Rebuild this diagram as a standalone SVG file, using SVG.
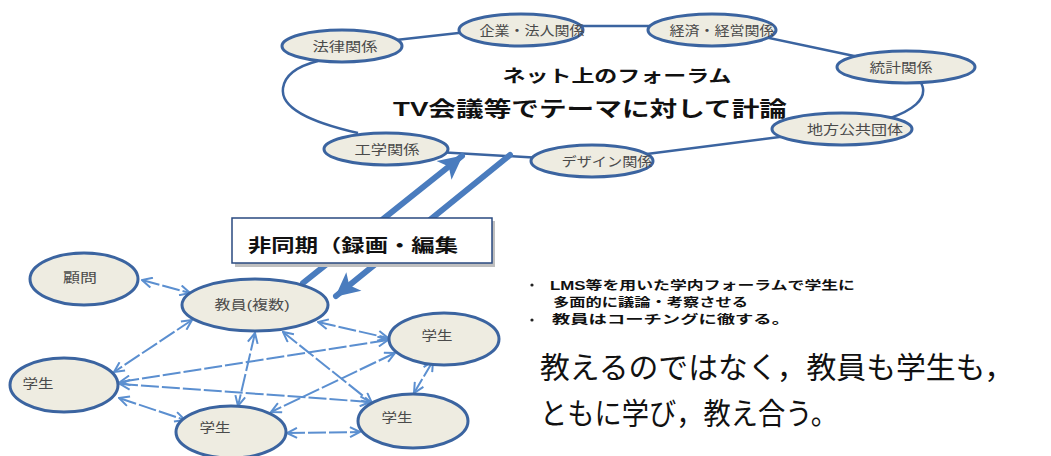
<svg xmlns="http://www.w3.org/2000/svg" width="1051" height="456" viewBox="0 0 1051 456">
<style>
.ell{fill:#eeece1;stroke:#3b64a0;stroke-width:3}
.lbl{font-family:"Liberation Sans","Noto Sans CJK JP",sans-serif;font-size:13px;fill:#4a4a4a;text-anchor:middle}
.loop{fill:none;stroke:#3b64a0;stroke-width:2.5}
.con{fill:none;stroke:#5b8fd0;stroke-width:2;stroke-dasharray:18 3;marker-start:url(#ah);marker-end:url(#ah)}
.big{fill:none;stroke:#4a7cbe;stroke-width:6;stroke-linecap:round}
.title{font-family:"Liberation Sans","Noto Sans CJK JP",sans-serif;font-weight:bold;fill:#111}
.msg{font-family:"Noto Sans CJK JP",sans-serif;fill:#111}
</style>
<defs>
<marker id="ah" viewBox="0 0 12 12" refX="11" refY="6" markerWidth="12" markerHeight="12" markerUnits="userSpaceOnUse" orient="auto-start-reverse">
<path d="M1,1 L11,6 L1,11" fill="none" stroke="#5b8fd0" stroke-width="2"/>
</marker>
<marker id="bh" viewBox="0 0 30 30" refX="27" refY="15" markerWidth="30" markerHeight="30" markerUnits="userSpaceOnUse" orient="auto">
<path d="M4,3 L28,15 L4,27 L10,15 Z" fill="#4a7cbe"/>
</marker>
</defs>

<g id="forum-loop">
<path class="loop" d="M342,46 L521,26 L712,26 L906,67 C945,95 915,118 842,129 L592,161 L386,149"/>
<path class="loop" d="M358,133 C310,122 280,108 283,88 C285,75 298,66 318,61"/>
</g>

<g id="big-arrows">
<path class="big" d="M303,283 L462,156" marker-end="url(#bh)"/>
<path class="big" d="M510,155 L336,296" marker-end="url(#bh)"/>
</g>

<g id="forum-title">
<text class="title" x="617" y="82" font-size="17" text-anchor="middle" textLength="229" lengthAdjust="spacingAndGlyphs">ネット上のフォーラム</text>
<text class="title" x="590" y="116" font-size="21" text-anchor="middle" textLength="394" lengthAdjust="spacingAndGlyphs">TV会議等でテーマに対して計論</text>
</g>

<g id="n-houritsu"><ellipse class="ell" cx="342" cy="46" rx="60" ry="16"/><text class="lbl" x="345" y="51" textLength="65" lengthAdjust="spacingAndGlyphs">法律関係</text></g>
<g id="n-kigyou"><ellipse class="ell" cx="521" cy="30" rx="62" ry="16"/><text class="lbl" x="532" y="35" textLength="105" lengthAdjust="spacingAndGlyphs">企業・法人関係</text></g>
<g id="n-keizai"><ellipse class="ell" cx="712" cy="30" rx="64" ry="16"/><text class="lbl" x="722" y="35" textLength="105" lengthAdjust="spacingAndGlyphs">経済・経営関係</text></g>
<g id="n-toukei"><ellipse class="ell" cx="906" cy="67" rx="69" ry="16"/><text class="lbl" x="901" y="72" textLength="63" lengthAdjust="spacingAndGlyphs">統計関係</text></g>
<g id="n-chihou"><ellipse class="ell" cx="842" cy="129" rx="70" ry="16"/><text class="lbl" x="855" y="134" textLength="96" lengthAdjust="spacingAndGlyphs">地方公共団体</text></g>
<g id="n-design"><ellipse class="ell" cx="592" cy="161" rx="61" ry="16"/><text class="lbl" x="607" y="166" textLength="91" lengthAdjust="spacingAndGlyphs">デザイン関係</text></g>
<g id="n-kougaku"><ellipse class="ell" cx="386" cy="149" rx="62" ry="16"/><text class="lbl" x="387" y="154" textLength="65" lengthAdjust="spacingAndGlyphs">工学関係</text></g>

<g id="n-async">
<rect x="235" y="221" width="260" height="46" fill="#bfbfbf"/>
<rect x="232" y="218" width="260" height="45" fill="#ffffff" stroke="#2a4a80" stroke-width="1.5"/>
<text class="title" x="248" y="252" font-size="18" textLength="210" lengthAdjust="spacingAndGlyphs">非同期（録画・編集</text>
</g>

<g id="connectors">
<path class="con" d="M142,280 L190,293"/>
<path class="con" d="M192,320 L114,372"/>
<path class="con" d="M255,333 L238,406"/>
<path class="con" d="M283,332 L372,403"/>
<path class="con" d="M318,322 L388,338"/>
<path class="con" d="M388,340 L120,382"/>
<path class="con" d="M120,384 L370,402"/>
<path class="con" d="M395,353 L271,412"/>
<path class="con" d="M433,361 L414,393"/>
<path class="con" d="M119,398 L185,420"/>
<path class="con" d="M287,433 L360,432"/>
</g>

<g id="n-komon"><ellipse class="ell" cx="84" cy="279" rx="54" ry="26"/><text class="lbl" x="80" y="282" textLength="34" lengthAdjust="spacingAndGlyphs">顧問</text></g>
<g id="n-kyouin"><ellipse class="ell" cx="255" cy="305" rx="73" ry="26"/><text class="lbl" x="252" y="309" textLength="75" lengthAdjust="spacingAndGlyphs">教員(複数)</text></g>
<g id="n-gakusei-rt"><ellipse class="ell" cx="444" cy="339" rx="55" ry="26"/><text class="lbl" x="437" y="340" textLength="31" lengthAdjust="spacingAndGlyphs">学生</text></g>
<g id="n-gakusei-l"><ellipse class="ell" cx="64" cy="385" rx="54" ry="27"/><text class="lbl" x="38" y="388" textLength="31" lengthAdjust="spacingAndGlyphs">学生</text></g>
<g id="n-gakusei-bm"><ellipse class="ell" cx="231" cy="432" rx="55" ry="26"/><text class="lbl" x="215" y="432" textLength="31" lengthAdjust="spacingAndGlyphs">学生</text></g>
<g id="n-gakusei-br"><ellipse class="ell" cx="413" cy="421" rx="55" ry="27"/><text class="lbl" x="397" y="422" textLength="31" lengthAdjust="spacingAndGlyphs">学生</text></g>

<g id="bullets">
<circle cx="532" cy="285" r="1.6" fill="#222"/>
<text class="title" x="550" y="290" font-size="12" textLength="305" lengthAdjust="spacingAndGlyphs">LMS等を用いた学内フォーラムで学生に</text>
<text class="title" x="553" y="307" font-size="12" textLength="195" lengthAdjust="spacingAndGlyphs">多面的に議論・考察させる</text>
<circle cx="532" cy="320" r="1.6" fill="#222"/>
<text class="title" x="552" y="324" font-size="12" textLength="238" lengthAdjust="spacingAndGlyphs">教員はコーチングに徹する。</text>
</g>

<g id="message">
<text class="msg" x="540" y="378" font-size="30" textLength="474" lengthAdjust="spacingAndGlyphs">教えるのではなく，教員も学生も，</text>
<text class="msg" x="540" y="424" font-size="30" textLength="298" lengthAdjust="spacingAndGlyphs">ともに学び，教え合う。</text>
</g>
</svg>
